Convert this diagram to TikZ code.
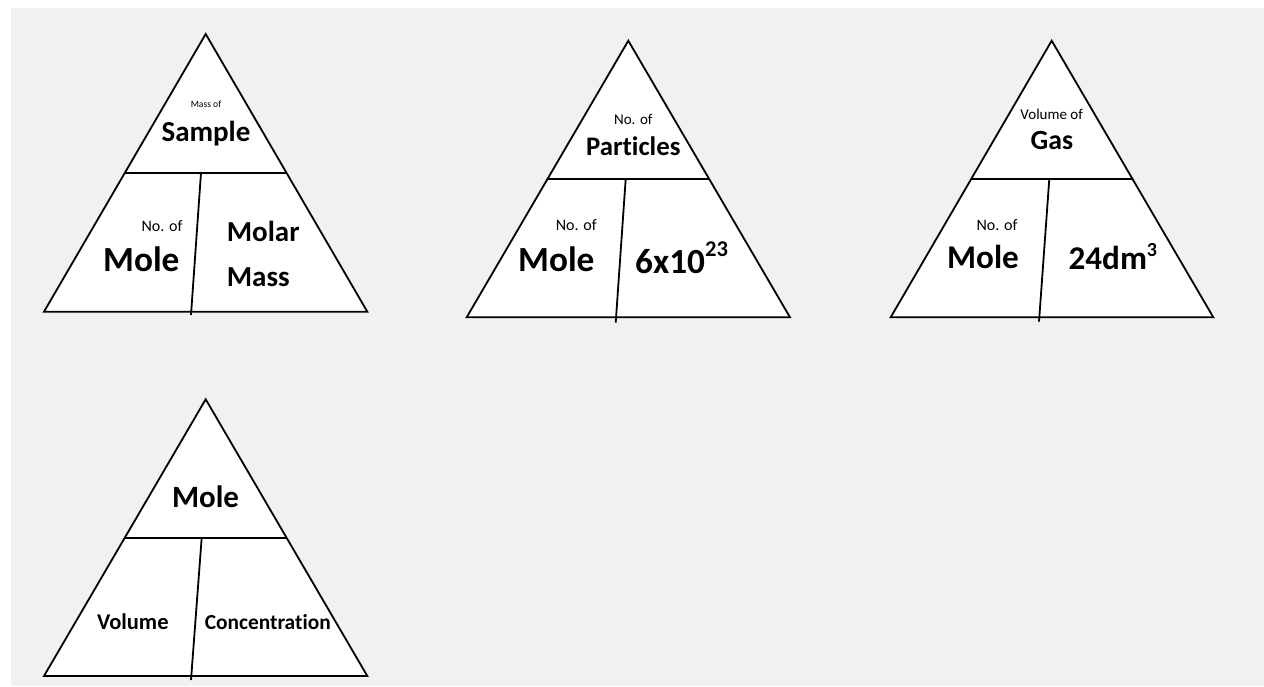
\documentclass[tikz,border=0pt]{standalone}
\usepackage{fontspec}
\setmainfont[Ligatures=NoCommon]{Carlito}
\usetikzlibrary{calc}
\begin{document}
\begin{tikzpicture}[x=1pt,y=-1pt]
\tikzset{
  panel/.style={draw=black, line width=1.8pt, fill=white, line join=miter},
  rule/.style={draw=black, line width=1.8pt},
  lbl/.style={anchor=base, inner sep=0pt, font=\fontsize{#1}{#1}\selectfont},
  term/.style={anchor=base, inner sep=0pt, font=\bfseries\fontsize{#1}{#1}\selectfont},
  termw/.style={anchor=base west, inner sep=0pt, font=\bfseries\fontsize{#1}{#1}\selectfont},
}
\definecolor{sheet}{HTML}{F1F1F1}
\useasboundingbox (0,0) rectangle (1264,687);
\fill[white] (0,0) rectangle (1264,687);
\fill[sheet] (11,8) rectangle (1264,686);

% ---------- mass / molar mass ----------
\coordinate (A1) at (205.7,34);
\coordinate (L1) at (44,311.7);
\coordinate (R1) at (367.3,311.7);
\draw[panel] (A1) -- (L1) -- (R1) -- cycle;
\draw[rule] ($(A1)!0.5!(L1)$) -- ($(A1)!0.5!(R1)$);
\coordinate (V1t) at (201,172.85);
\coordinate (V1b) at (191,315);
\draw[rule] (V1t) -- (V1b);
\node[lbl=9.6]  (m1a) at (206,108) {Mass of};
\node[term=29] (m1b) at (206,141.7) {Sample};
\node[lbl=16] (m1c) at (162,231.7) {No. of};
\node[term=35.3] (m1d) at (141.3,271.7) {Mole};
\node[termw=29] (m1e) at (226.7,241.7) {Molar};
\node[termw=29] (m1f) at (226.7,286.7) {Mass};

% ---------- particles / Avogadro ----------
\coordinate (A2) at (628.3,40.7);
\coordinate (L2) at (466.7,317.3);
\coordinate (R2) at (790,317.3);
\draw[panel] (A2) -- (L2) -- (R2) -- cycle;
\draw[rule] ($(A2)!0.5!(L2)$) -- ($(A2)!0.5!(R2)$);
\coordinate (V2t) at (625.7,179);
\coordinate (V2b) at (615.7,322.7);
\draw[rule] (V2t) -- (V2b);
\node[lbl=15] (m2a) at (633.3,125) {No. of};
\node[term=26.8] (m2b) at (633.3,156) {Particles};
\node[lbl=16] (m2c) at (576.3,231) {No. of};
\node[term=35.3] (m2d) at (556.3,271.7) {Mole};
\node[termw=35.3] (m2e) at (635,273.3) {6x10\raisebox{0.47em}{\fontsize{22.5}{22.5}\selectfont 23}};

% ---------- gas volume ----------
\coordinate (A3) at (1051.7,40.7);
\coordinate (L3) at (890.7,317.3);
\coordinate (R3) at (1213.3,317.3);
\draw[panel] (A3) -- (L3) -- (R3) -- cycle;
\draw[rule] ($(A3)!0.5!(L3)$) -- ($(A3)!0.5!(R3)$);
\coordinate (V3t) at (1049.3,179);
\coordinate (V3b) at (1039,321.7);
\draw[rule] (V3t) -- (V3b);
\node[lbl=15] (m3a) at (1051.7,119.3) {Volume of};
\node[term=27.8] (m3b) at (1052,150) {Gas};
\node[lbl=16] (m3c) at (997,231) {No. of};
\node[term=33.2] (m3d) at (983,268.3) {Mole};
\node[termw=33.2] (m3e) at (1068.3,269.3) {24dm\raisebox{0.4em}{\fontsize{20}{20}\selectfont 3}};

% ---------- solution concentration ----------
\coordinate (A4) at (205.7,399.3);
\coordinate (L4) at (44,676);
\coordinate (R4) at (367.3,676);
\draw[panel] (A4) -- (L4) -- (R4) -- cycle;
\draw[rule] ($(A4)!0.5!(L4)$) -- ($(A4)!0.5!(R4)$);
\coordinate (V4t) at (201.7,537.65);
\coordinate (V4b) at (191,680);
\draw[rule] (V4t) -- (V4b);
\node[term=31] (m4a) at (205.5,507.3) {Mole};
\node[term=22.5] (m4b) at (132.8,629.3) {Volume};
\node[term=21.4] (m4c) at (267.8,629.3) {Concentration};
\end{tikzpicture}
\end{document}
